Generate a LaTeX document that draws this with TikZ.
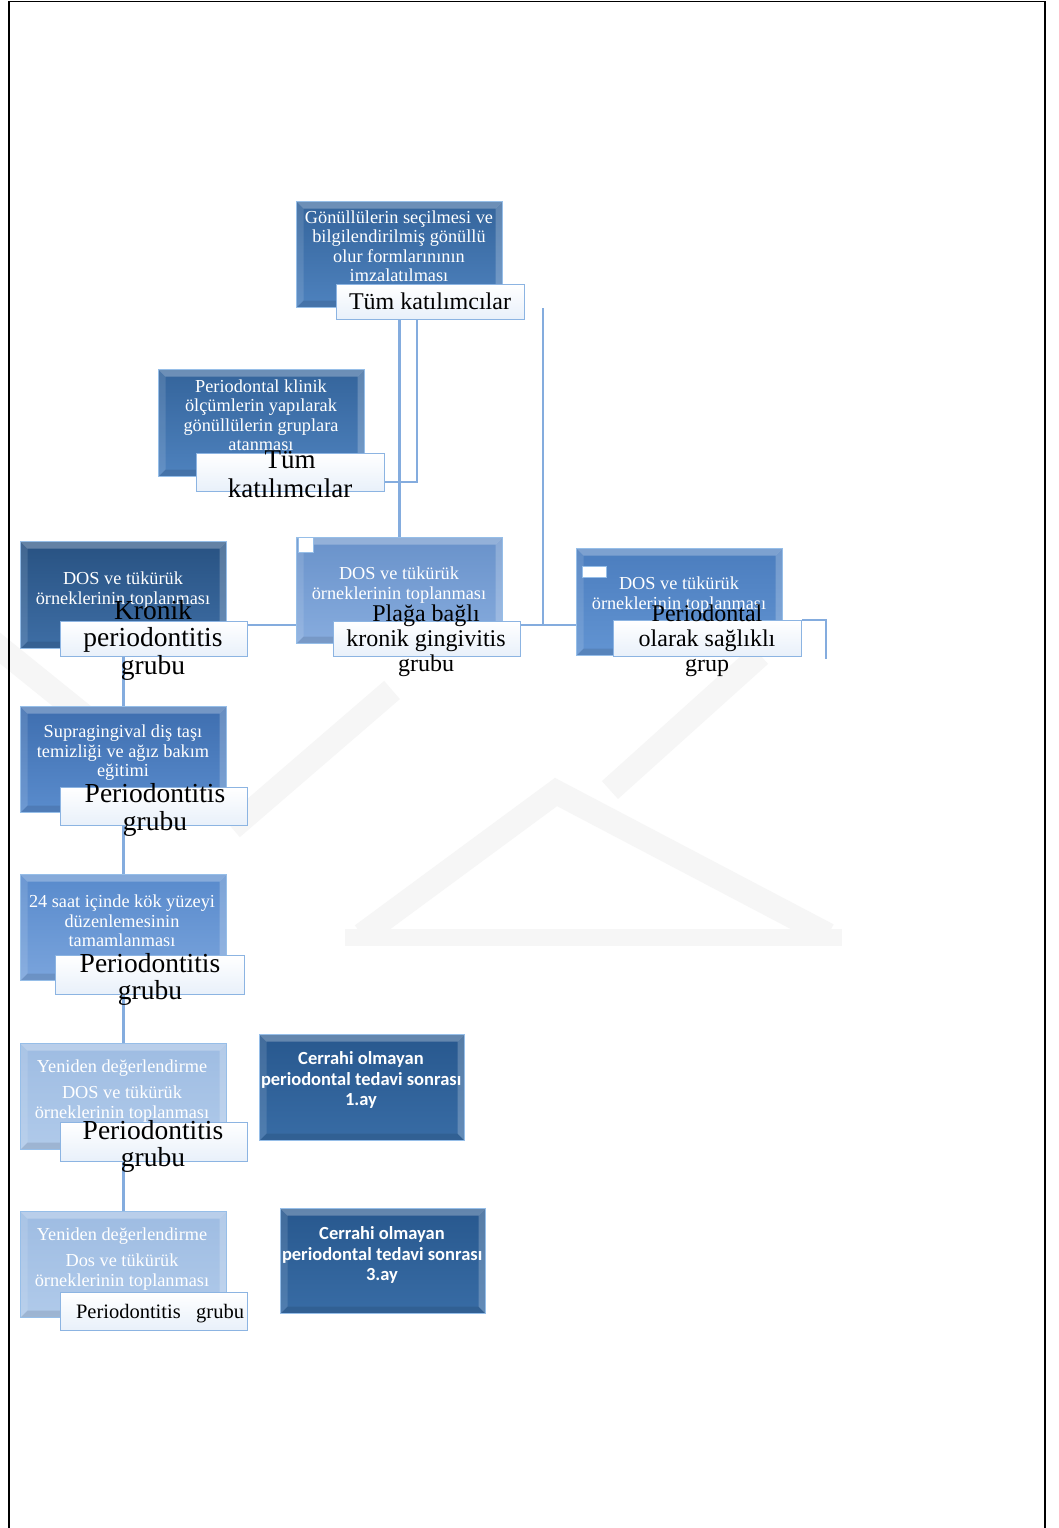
\documentclass[tikz,border=0pt]{standalone}
\usepackage{fontspec}
\setmainfont{Liberation Serif}
\newfontfamily\calfont{Carlito}
\usetikzlibrary{backgrounds}
\definecolor{cLine}{RGB}{132,172,222}
\definecolor{cEdge}{RGB}{150,190,232}
\definecolor{cLabEdge}{RGB}{140,180,226}
\definecolor{cLabBot}{RGB}{232,240,250}
\definecolor{wmk}{RGB}{246,246,246}
\definecolor{aT}{RGB}{52,100,155}\definecolor{aB}{RGB}{78,130,190}
\definecolor{cT}{RGB}{40,82,130}\definecolor{cB}{RGB}{62,110,165}
\definecolor{dT}{RGB}{105,146,202}\definecolor{dB}{RGB}{135,172,222}
\definecolor{eT}{RGB}{75,125,190}\definecolor{eB}{RGB}{98,148,210}
\definecolor{fT}{RGB}{62,110,175}\definecolor{fB}{RGB}{90,140,205}
\definecolor{gT}{RGB}{88,138,204}\definecolor{gB}{RGB}{122,164,220}
\definecolor{hT}{RGB}{158,188,226}\definecolor{hB}{RGB}{176,202,234}
\definecolor{jT}{RGB}{40,88,142}\definecolor{jB}{RGB}{56,108,165}
\begin{document}
\begin{tikzpicture}[x=1pt,y=-1pt,
  conn/.style={draw=cLine,line width=2.6pt},
  blk/.style={rectangle,draw=cEdge,line width=1pt,inner sep=0pt,anchor=north west,
    minimum width=206pt,minimum height=106pt,
    path picture={
      \fill[white,opacity=.28] (path picture bounding box.north west) -- (path picture bounding box.north east) -- ([shift={(-7pt,-7pt)}]path picture bounding box.north east) -- ([shift={(7pt,-7pt)}]path picture bounding box.north west) -- cycle;
      \fill[white,opacity=.12] (path picture bounding box.north west) -- ([shift={(7pt,-7pt)}]path picture bounding box.north west) -- ([shift={(7pt,7pt)}]path picture bounding box.south west) -- (path picture bounding box.south west) -- cycle;
      \fill[white,opacity=.22] (path picture bounding box.north east) -- ([shift={(-7pt,-7pt)}]path picture bounding box.north east) -- ([shift={(-7pt,7pt)}]path picture bounding box.south east) -- (path picture bounding box.south east) -- cycle;
      \fill[black,opacity=.10] (path picture bounding box.south west) -- ([shift={(7pt,7pt)}]path picture bounding box.south west) -- ([shift={(-7pt,7pt)}]path picture bounding box.south east) -- (path picture bounding box.south east) -- cycle;
    }},
  lab/.style={rectangle,draw=cLabEdge,line width=1.3pt,top color=white,bottom color=cLabBot,
    inner sep=0pt,anchor=north west,minimum width=188pt,minimum height=36pt},
  btxt/.style={text=white,align=center,inner sep=0pt,font=\fontsize{18.3}{19.5}\selectfont},
  ltxt/.style={text=black,align=center,inner sep=0pt},
  jtxt/.style={text=white,align=center,inner sep=0pt,font=\calfont\bfseries\fontsize{18.5}{20.5}\selectfont},
  wm/.style={draw=wmk,line width=24pt}
]
\useasboundingbox (0,0) rectangle (1059,1528);
% boxes
\node[blk,top color=aT,bottom color=aB] (A) at (296,201) {};
\node[blk,top color=aT,bottom color=aB,minimum height=107pt] (B) at (158,369) {};
\node[blk,top color=cT,bottom color=cB,minimum height=107pt] (C) at (20,541) {};
\node[blk,top color=dT,bottom color=dB] (D) at (296,537) {};
\node[blk,top color=eT,bottom color=eB,minimum height=107pt] (E) at (576,548) {};
\node[blk,top color=fT,bottom color=fB] (F) at (20,706) {};
\node[blk,top color=gT,bottom color=gB] (G) at (20,874) {};
\node[blk,top color=hT,bottom color=hB] (H) at (20,1043) {};
\node[blk,top color=hT,bottom color=hB] (I) at (20,1211) {};
\node[blk,top color=jT,bottom color=jB,minimum width=205pt] (J) at (259,1034) {};
\node[blk,top color=jT,bottom color=jB,minimum width=205pt,minimum height=105pt] (K) at (280,1208) {};
% small squares
\node[draw=cEdge,fill=white,line width=.8pt,minimum size=15pt,inner sep=0pt,anchor=north west] (sq1) at (298,537) {};
\node[draw=cEdge,fill=white,line width=.8pt,minimum width=24pt,minimum height=11pt,inner sep=0pt,anchor=north west] (sq2) at (582,566) {};
% box texts
\node[btxt] (At) at (399,246) {Gönüllülerin seçilmesi ve\\bilgilendirilmiş gönüllü\\olur formlarınının\\imzalatılması};
\node[btxt] (Bt) at (261,415) {Periodontal klinik\\ölçümlerin yapılarak\\gönüllülerin gruplara\\atanması};
\node[btxt] (Ct) at (123,590) {DOS ve tükürük\\örneklerinin toplanması};
\node[btxt] (Dt) at (399,585) {DOS ve tükürük\\örneklerinin toplanması};
\node[btxt] (Et) at (679,595) {DOS ve tükürük\\örneklerinin toplanması};
\node[btxt] (Ft) at (123,753) {Supragingival diş taşı\\temizliği ve ağız bakım\\eğitimi};
\node[btxt] (Gt) at (122,921) {24 saat içinde kök yüzeyi\\düzenlemesinin\\tamamlanması};
\node[btxt] (Ht) at (122,1091) {Yeniden değerlendirme\\[7pt]DOS ve tükürük\\örneklerinin toplanması};
\node[btxt] (It) at (122,1259) {Yeniden değerlendirme\\[7pt]Dos ve tükürük\\örneklerinin toplanması};
\begin{scope}
\clip (J.north west) rectangle (J.south east);
\node[jtxt] (Jt) at (361,1080) {Cerrahi olmayan\\\makebox[200pt][l]{periodontal tedavi sonrası}\\1.ay};
\end{scope}
\begin{scope}
\clip (K.north west) rectangle (K.south east);
\node[jtxt] (Kt) at (382,1255) {Cerrahi olmayan\\\makebox[200pt][l]{periodontal tedavi sonrası}\\3.ay};
\end{scope}
% label boxes (on top of box texts)
\node[lab,minimum height=35pt] (Alab) at (336,284) {};
\node[lab,minimum height=38pt] (Blab) at (196,453) {};
\node[lab,minimum width=187pt,minimum height=35pt] (Clab) at (60,621) {};
\node[lab,minimum width=187pt,minimum height=35pt] (Dlab) at (333,621) {};
\node[lab] (Elab) at (613,620) {};
\node[lab,minimum width=187pt,minimum height=38pt] (Flab) at (60,787) {};
\node[lab,minimum width=189pt,minimum height=39pt] (Glab) at (55,955) {};
\node[lab,minimum width=187pt,minimum height=39pt] (Hlab) at (60,1122) {};
\node[lab,minimum width=187pt,minimum height=38pt] (Ilab) at (60,1292) {};
% label texts
\node[ltxt,font=\fontsize{24}{26}\selectfont] (Alt) at (430,301) {Tüm katılımcılar};
\node[ltxt,font=\fontsize{27}{29}\selectfont] (Blt) at (290,474) {Tüm\\katılımcılar};
\node[ltxt,font=\fontsize{27.5}{27.5}\selectfont] (Clt) at (153,640) {Kronik\\periodontitis\\grubu};
\node[ltxt,font=\fontsize{24}{25}\selectfont] (Dlt) at (426,641) {Plağa bağlı\\kronik gingivitis\\grubu};
\node[ltxt,font=\fontsize{24}{25}\selectfont] (Elt) at (707,641) {Periodontal\\olarak sağlıklı\\grup};
\node[ltxt,font=\fontsize{27.5}{28}\selectfont] (Flt) at (155,810) {Periodontitis\\grubu};
\node[ltxt,font=\fontsize{27.5}{27}\selectfont] (Glt) at (150,979) {Periodontitis\\grubu};
\node[ltxt,font=\fontsize{27.5}{27}\selectfont] (Hlt) at (153,1146) {Periodontitis\\grubu};
\node[ltxt,font=\fontsize{20.5}{22}\selectfont] (Ilt) at (160,1314) {Periodontitis\hspace{0.5em} grubu};
% background: page, watermark, frame, connectors
\begin{scope}[on background layer]
\fill[white] (0,0) rectangle (1059,1528);
\fill[wmk] (345,929) rectangle (842,946);
\draw[wm] (362,935) -- (556,792) -- (828,935);
\draw[wm] (232,828) -- (392,690);
\draw[wm] (610,790) -- (760,655);
\draw[wm] (-10,640) -- (120,745);
\draw[line width=1.8pt] (9,1528) -- (9,1.5) -- (1045,1.5) -- (1045,1528);
\coordinate (k1) at (417,482);
\coordinate (k2) at (543,308);
\coordinate (k3) at (543,625);
\coordinate (k4) at (826,659);
\draw[conn] (Alab.south -| D.north) -- (D.north);
\draw[conn] (Alab.south -| k1) -- (k1) -- (Blab.east |- k1);
\draw[conn] (k2) -- (k3);
\draw[conn] (Clab.east |- k3) -- (D.west |- k3);
\draw[conn] (Dlab.east |- k3) -- (E.west |- k3);
\draw[conn] (Elab.north east) -- (Elab.north east -| k4) -- (k4);
\draw[conn] (C.south) -- (F.north);
\draw[conn] (F.south) -- (G.north);
\draw[conn] (G.south) -- (H.north);
\draw[conn] (H.south) -- (I.north);
\end{scope}
\end{tikzpicture}
\end{document}
